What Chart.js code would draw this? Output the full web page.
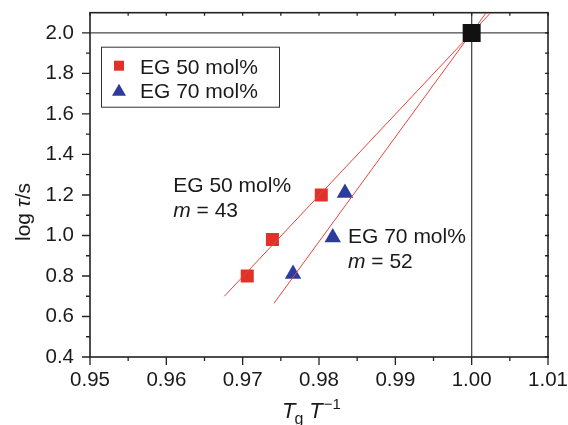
<!DOCTYPE html>
<html>
<head>
<meta charset="utf-8">
<script src="https://cdn.jsdelivr.net/npm/chart.js@4.4.1/dist/chart.umd.min.js"></script>
<style>
  html, body { margin: 0; padding: 0; background: #fff; }
  #wrap { width: 568px; height: 425px; }
</style>
</head>
<body>
<div id="wrap"><canvas id="chart" width="568" height="425"></canvas></div>
<script>
// data
const eg50X = [0.9706, 0.9739, 0.9803];
const eg50Y = [0.80, 0.98, 1.20];
const eg70X = [0.9766, 0.9818, 0.9834];
const eg70Y = [0.81, 0.99, 1.21];
const fit50X = [0.9676, 1.0025];
const fit50Y = [0.70, 2.10];
const fit70X = [0.9741, 1.0019];
const fit70Y = [0.665, 2.10];
const refX = [1.00];
const refY = [2.00];
const xTicks = [0.95, 0.96, 0.97, 0.98, 0.99, 1.00, 1.01];
const yTicks = [0.4, 0.6, 0.8, 1.0, 1.2, 1.4, 1.6, 1.8, 2.0];
const seriesLabels = ['EG 50 mol%', 'EG 70 mol%'];
const slopeLabels = ['m = 43', 'm = 52'];

const RED = '#e1322a';
const BLUE = '#2d3c9c';
const LINE_RED = '#e8453a';
const FONT = '"Liberation Sans", Arial, sans-serif';

const pts = (xs, ys) => xs.map((x, i) => ({ x, y: ys[i] }));

// frame, ticks, reference lines
const framePlugin = {
  id: 'frame',
  beforeDatasetsDraw(chart) {
    const { ctx, chartArea: a, scales: { x, y } } = chart;
    ctx.save();
    // reference lines at x = 1.00 and y = 2.0
    ctx.strokeStyle = '#4a4a4a';
    ctx.lineWidth = 1.3;
    const rx = x.getPixelForValue(1.0), ry = y.getPixelForValue(2.0);
    ctx.beginPath();
    ctx.moveTo(a.left, ry); ctx.lineTo(a.right, ry);
    ctx.moveTo(rx, a.top); ctx.lineTo(rx, a.bottom);
    ctx.stroke();

    ctx.strokeStyle = '#222';
    ctx.lineWidth = 1.6;
    ctx.strokeRect(a.left, a.top, a.right - a.left, a.bottom - a.top);

    ctx.lineWidth = 1.3;
    ctx.beginPath();
    // y ticks
    yTicks.forEach((v, i) => {
      const py = y.getPixelForValue(v);
      ctx.moveTo(a.left - 8, py); ctx.lineTo(a.left, py);
      ctx.moveTo(a.right - 3, py); ctx.lineTo(a.right + 1, py);
      const mv = i < yTicks.length - 1 ? (v + yTicks[i + 1]) / 2 : v + 0.1;
      const pm = y.getPixelForValue(mv);
      if (pm >= a.top + 1) {
        ctx.moveTo(a.left - 4, pm); ctx.lineTo(a.left, pm);
        ctx.moveTo(a.right - 3, pm); ctx.lineTo(a.right + 1, pm);
      }
    });
    // x ticks
    xTicks.forEach((v, i) => {
      const px = x.getPixelForValue(v);
      ctx.moveTo(px, a.bottom); ctx.lineTo(px, a.bottom + 8);
      ctx.moveTo(px, a.top); ctx.lineTo(px, a.top + 3);
      if (i < xTicks.length - 1) {
        const pm = x.getPixelForValue((v + xTicks[i + 1]) / 2);
        ctx.moveTo(pm, a.bottom); ctx.lineTo(pm, a.bottom + 4);
        ctx.moveTo(pm, a.top); ctx.lineTo(pm, a.top + 3);
      }
    });
    ctx.stroke();
    ctx.restore();
  },
  afterDraw(chart) {
    const { ctx, chartArea: a, scales: { x, y } } = chart;
    ctx.save();
    ctx.fillStyle = '#1a1a1a';
    ctx.textBaseline = 'alphabetic';
    const big = '21px ' + FONT, bigI = 'italic 21px ' + FONT;

    // legend box
    const lx = a.left + 11, ly = a.top + 34;
    ctx.strokeStyle = '#333';
    ctx.lineWidth = 1;
    ctx.strokeRect(lx + 0.5, ly + 0.5, 178, 60);
    ctx.fillStyle = RED;
    ctx.fillRect(lx + 13, ly + 14, 10, 10);
    ctx.fillStyle = BLUE;
    ctx.beginPath();
    ctx.moveTo(lx + 18, ly + 37); ctx.lineTo(lx + 25, ly + 49); ctx.lineTo(lx + 11, ly + 49);
    ctx.closePath(); ctx.fill();
    ctx.fillStyle = '#1a1a1a';
    ctx.font = big;
    ctx.fillText(seriesLabels[0], lx + 39, ly + 27);
    ctx.fillText(seriesLabels[1], lx + 39, ly + 51);

    // slope annotations
    const drawSlope = (label, slope, vx, vy) => {
      const px = x.getPixelForValue(vx), py = y.getPixelForValue(vy);
      ctx.font = big;
      ctx.fillText(label, px, py);
      ctx.font = bigI;
      ctx.fillText('m', px, py + 25);
      const w = ctx.measureText('m').width;
      ctx.font = big;
      ctx.fillText(slope.slice(1), px + w, py + 25);
    };
    drawSlope(seriesLabels[0], slopeLabels[0], 0.9609, 1.215);
    drawSlope(seriesLabels[1], slopeLabels[1], 0.9838, 0.963);

    // x title: Tg T^-1
    let tx = 282;
    const ty = 418;
    ctx.font = 'italic 22px ' + FONT; ctx.fillText('T', tx, ty); tx += ctx.measureText('T').width - 1;
    ctx.font = '16px ' + FONT; ctx.fillText('g', tx, ty + 6); tx += ctx.measureText('g').width + 6;
    ctx.font = 'italic 22px ' + FONT; ctx.fillText('T', tx, ty); tx += ctx.measureText('T').width + 1;
    ctx.font = '15px ' + FONT; ctx.fillText('\u22121', tx, ty - 9);

    // y title: log tau/s
    ctx.translate(30, 212);
    ctx.rotate(-Math.PI / 2);
    ctx.font = big;
    const p1 = 'log ', p3 = '/s';
    const w1 = ctx.measureText(p1).width, w3 = ctx.measureText(p3).width;
    ctx.font = bigI;
    const w2 = ctx.measureText('\u03c4').width;
    let sx = -(w1 + w2 + w3) / 2;
    ctx.font = big; ctx.fillText(p1, sx, 0); sx += w1;
    ctx.font = bigI; ctx.fillText('\u03c4', sx, 0); sx += w2;
    ctx.font = big; ctx.fillText(p3, sx, 0);
    ctx.restore();
  }
};

new Chart(document.getElementById('chart'), {
  type: 'scatter',
  data: {
    datasets: [
      { label: 'ref', data: pts(refX, refY), pointStyle: 'rect', pointRadius: 12.7,
        backgroundColor: '#111', borderWidth: 0, order: 0 },
      { label: 'fit50', data: pts(fit50X, fit50Y), showLine: true, borderColor: LINE_RED,
        borderWidth: 1, pointRadius: 0, order: 1 },
      { label: 'fit70', data: pts(fit70X, fit70Y), showLine: true, borderColor: LINE_RED,
        borderWidth: 1, pointRadius: 0, order: 1 },
      { label: seriesLabels[0], data: pts(eg50X, eg50Y), pointStyle: 'rect', pointRadius: 9.2,
        backgroundColor: RED, borderWidth: 0, order: 2 },
      { label: seriesLabels[1], data: pts(eg70X, eg70Y), pointStyle: 'triangle', pointRadius: 9.5,
        backgroundColor: BLUE, borderWidth: 0, order: 2 }
    ]
  },
  options: {
    responsive: false,
    animation: false,
    devicePixelRatio: 1,
    layout: { padding: { top: 12, right: 20, left: 0, bottom: 0 } },
    plugins: { legend: { display: false }, tooltip: { enabled: false } },
    scales: {
      x: {
        type: 'linear', min: 0.95, max: 1.01,
        grid: { display: false, drawTicks: false },
        border: { display: false },
        afterBuildTicks: s => { s.ticks = xTicks.map(v => ({ value: v })); },
        afterFit: s => { s.height = 68; s.paddingLeft = 0; s.paddingRight = 0; },
        ticks: {
          padding: 11, color: '#1a1a1a', maxRotation: 0, autoSkip: false,
          font: { family: FONT, size: 20.5 },
          callback: v => v.toFixed(2)
        }
      },
      y: {
        type: 'linear', min: 0.4, max: 2.1,
        grid: { display: false, drawTicks: false },
        border: { display: false },
        afterBuildTicks: s => { s.ticks = yTicks.map(v => ({ value: v })); },
        afterFit: s => { s.width = 90; s.paddingTop = 0; s.paddingBottom = 0; },
        ticks: {
          padding: 16, color: '#1a1a1a', autoSkip: false,
          font: { family: FONT, size: 20.5 },
          callback: v => v.toFixed(1)
        }
      }
    }
  },
  plugins: [framePlugin]
});
</script>
</body>
</html>
